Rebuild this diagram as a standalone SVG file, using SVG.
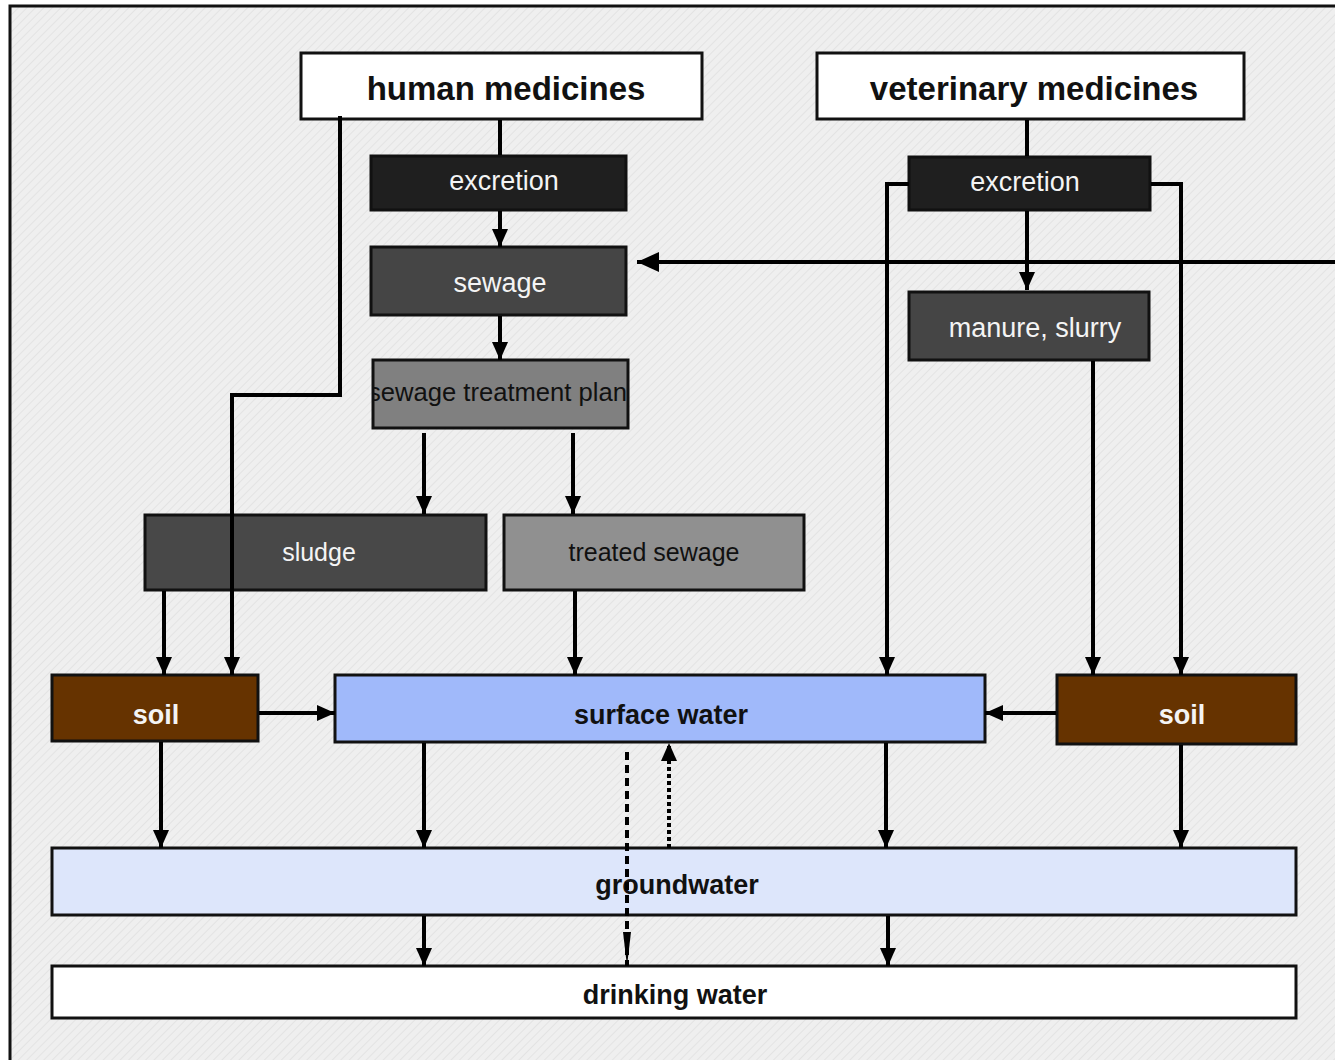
<svg xmlns="http://www.w3.org/2000/svg" width="1335" height="1060" viewBox="0 0 1335 1060">
<defs>
<pattern id="hatch" width="6" height="6" patternUnits="userSpaceOnUse" patternTransform="rotate(45)">
<rect width="6" height="6" fill="#efefef"/>
<line x1="0" y1="0" x2="0" y2="6" stroke="#e3e3e3" stroke-width="2"/>
</pattern>
<marker id="arr" markerUnits="userSpaceOnUse" markerWidth="18" markerHeight="18" viewBox="0 0 18 18" refX="18" refY="9" orient="auto">
<path d="M0,1 L18,9 L0,17 Z" fill="#000"/>
</marker>
<marker id="arrBig" markerUnits="userSpaceOnUse" markerWidth="22" markerHeight="22" viewBox="0 0 22 22" refX="22" refY="11" orient="auto">
<path d="M0,1 L22,11 L0,21 Z" fill="#000"/>
</marker>
<marker id="arrThin" markerUnits="userSpaceOnUse" markerWidth="34" markerHeight="10" viewBox="0 0 34 10" refX="34" refY="5" orient="auto">
<path d="M0,1 L34,5 L0,9 Z" fill="#000"/>
</marker>
<clipPath id="stpClip"><rect x="374" y="361" width="253" height="66"/></clipPath>
</defs>
<style>
.box{stroke:#111;stroke-width:3}
.lbl{font-family:"Liberation Sans",Arial,sans-serif;text-anchor:middle}
.b{font-weight:bold}
.w{fill:#f4f4f4}
.d{fill:#111}
.c{fill:none;stroke:#000;stroke-width:4}
</style>
<rect x="0" y="0" width="1335" height="1060" fill="#fff"/>
<rect x="10" y="6" width="1340" height="1070" fill="url(#hatch)" stroke="#111" stroke-width="3"/>

<g id="human-medicines">
<rect class="box" x="301" y="53" width="401" height="66" fill="#fff"/>
<text class="lbl b d" x="506" y="100" font-size="33">human medicines</text>
</g>
<g id="veterinary-medicines">
<rect class="box" x="817" y="53" width="427" height="66" fill="#fff"/>
<text class="lbl b d" x="1034" y="100" font-size="33">veterinary medicines</text>
</g>
<g id="excretion-human">
<rect class="box" x="371" y="156" width="255" height="54" fill="#1f1f1f"/>
<text class="lbl w" x="504" y="190" font-size="27">excretion</text>
</g>
<g id="sewage">
<rect class="box" x="371" y="247" width="255" height="68" fill="#454545"/>
<text class="lbl w" x="500" y="292" font-size="27">sewage</text>
</g>
<g id="sewage-treatment-plant">
<rect class="box" x="373" y="360" width="255" height="68" fill="#808080"/>
<text class="lbl d" x="501" y="401" font-size="25.6" clip-path="url(#stpClip)">sewage treatment plant</text>
</g>
<g id="sludge">
<rect class="box" x="145" y="515" width="341" height="75" fill="#484848"/>
<text class="lbl w" x="319" y="561" font-size="25">sludge</text>
</g>
<g id="treated-sewage">
<rect class="box" x="504" y="515" width="300" height="75" fill="#909090"/>
<text class="lbl d" x="654" y="561" font-size="25">treated sewage</text>
</g>
<g id="excretion-vet">
<rect class="box" x="909" y="157" width="241" height="53" fill="#1f1f1f"/>
<text class="lbl w" x="1025" y="191" font-size="27">excretion</text>
</g>
<g id="manure-slurry">
<rect class="box" x="909" y="292" width="240" height="68" fill="#454545"/>
<text class="lbl w" x="1035" y="337" font-size="27">manure, slurry</text>
</g>
<g id="soil-left">
<rect class="box" x="52" y="675" width="206" height="66" fill="#663300"/>
<text class="lbl b w" x="156" y="724" font-size="27">soil</text>
</g>
<g id="surface-water">
<rect class="box" x="335" y="675" width="650" height="67" fill="#a0b9fa"/>
<text class="lbl b d" x="661" y="724" font-size="27">surface water</text>
</g>
<g id="soil-right">
<rect class="box" x="1057" y="675" width="239" height="69" fill="#663300"/>
<text class="lbl b w" x="1182" y="724" font-size="27">soil</text>
</g>
<g id="groundwater">
<rect class="box" x="52" y="848" width="1244" height="67" fill="#dde6fb"/>
<text class="lbl b d" x="677" y="894" font-size="27">groundwater</text>
</g>
<g id="drinking-water">
<rect class="box" x="52" y="966" width="1244" height="52" fill="#fff"/>
<text class="lbl b d" x="675" y="1004" font-size="27">drinking water</text>
</g>

<g id="connectors">
<line class="c" x1="500" y1="120" x2="500" y2="155"/>
<line class="c" x1="500" y1="211" x2="500" y2="247" marker-end="url(#arr)"/>
<line class="c" x1="500" y1="316" x2="500" y2="360" marker-end="url(#arr)"/>
<line class="c" x1="424" y1="433" x2="424" y2="514" marker-end="url(#arr)"/>
<line class="c" x1="573" y1="433" x2="573" y2="514" marker-end="url(#arr)"/>
<polyline class="c" points="340,116 340,395 232,395 232,675" marker-end="url(#arr)"/>
<line class="c" x1="164" y1="591" x2="164" y2="675" marker-end="url(#arr)"/>
<line class="c" x1="575" y1="591" x2="575" y2="675" marker-end="url(#arr)"/>
<line class="c" x1="259" y1="713" x2="335" y2="713" marker-end="url(#arr)"/>
<line class="c" x1="161" y1="742" x2="161" y2="848" marker-end="url(#arr)"/>
<line class="c" x1="424" y1="743" x2="424" y2="848" marker-end="url(#arr)"/>
<line class="c" x1="886" y1="743" x2="886" y2="848" marker-end="url(#arr)"/>
<line class="c" x1="424" y1="916" x2="424" y2="966" marker-end="url(#arr)"/>
<line class="c" x1="888" y1="916" x2="888" y2="966" marker-end="url(#arr)"/>
<line class="c" x1="1181" y1="745" x2="1181" y2="848" marker-end="url(#arr)"/>
<line class="c" x1="1056" y1="713" x2="985" y2="713" marker-end="url(#arr)"/>
<line class="c" x1="1027" y1="120" x2="1027" y2="156"/>
<line class="c" x1="1027" y1="211" x2="1027" y2="290" marker-end="url(#arr)"/>
<polyline class="c" points="909,184 887,184 887,675" marker-end="url(#arr)"/>
<polyline class="c" points="1151,184 1181,184 1181,675" marker-end="url(#arr)"/>
<line class="c" x1="1093" y1="361" x2="1093" y2="675" marker-end="url(#arr)"/>
<line class="c" x1="1340" y1="262" x2="637" y2="262" stroke-width="5" marker-end="url(#arrBig)"/>
<line class="c" x1="627" y1="752" x2="627" y2="966" stroke-width="3" stroke-dasharray="8,5" marker-end="url(#arrThin)"/>
<line class="c" x1="669" y1="848" x2="669" y2="743" stroke-width="5" stroke-dasharray="4,3" marker-end="url(#arr)"/>
</g>
</svg>
